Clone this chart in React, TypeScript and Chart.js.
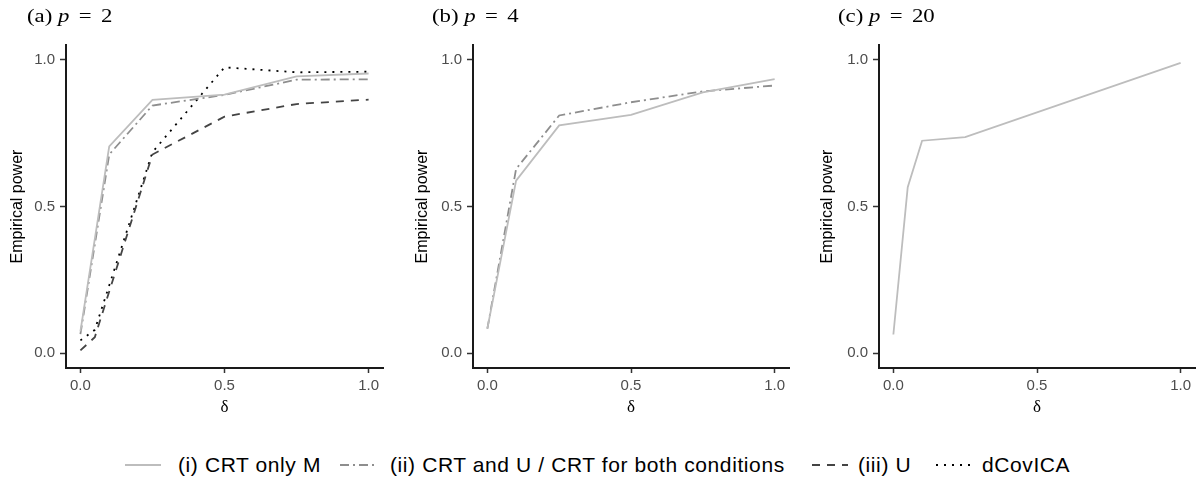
import React, { useEffect, useRef } from 'react';
import { Chart, registerables } from 'chart.js';
Chart.register(...registerables);

// ---- data ----
const deltaA_crt = [0, 0.1, 0.25, 0.5, 0.75, 1.0];
const powerA_crtOnlyM = [0.075, 0.705, 0.863, 0.881, 0.943, 0.953];
const powerA_crtAndU = [0.065, 0.677, 0.844, 0.88, 0.932, 0.933];
const deltaA_other = [0, 0.05, 0.25, 0.5, 0.75, 1.0];
const powerA_U = [0.01, 0.055, 0.677, 0.806, 0.849, 0.864];
const powerA_dCovICA = [0.044, 0.08, 0.685, 0.974, 0.957, 0.959];

const deltaB = [0, 0.1, 0.25, 0.5, 0.75, 1.0];
const powerB_crtOnlyM = [0.084, 0.588, 0.776, 0.812, 0.889, 0.934];
const powerB_crtAndU = [0.084, 0.628, 0.81, 0.855, 0.892, 0.912];

const deltaC = [0, 0.05, 0.1, 0.25, 1.0];
const powerC_crtOnlyM = [0.064, 0.566, 0.724, 0.736, 0.989];

const xTickValues = [0, 0.5, 1];
const yTickValues = [0, 0.5, 1];
const seriesLabels = [
  '(i) CRT only M',
  '(ii) CRT and U / CRT for both conditions',
  '(iii) U',
  'dCovICA',
];
const panelTitles = [
  { tag: '(a)', p: '2' },
  { tag: '(b)', p: '4' },
  { tag: '(c)', p: '20' },
];

// ---- styles ----
const seriesStyles = [
  { color: '#bdbdbd', dash: [] as number[] },
  { color: '#8e8e8e', dash: [9, 4, 2, 4] },
  { color: '#444444', dash: [8, 7] },
  { color: '#000000', dash: [2, 6] },
];

const H = 422;
const SANS = "'Liberation Sans', Arial, Helvetica, sans-serif";
const SERIF = "'Liberation Serif', 'Times New Roman', serif";

type Series = { idx: number; x: number[]; y: number[] };

function Panel(props: {
  left: number;
  width: number;
  plotLeft: number;
  plotRight: number;
  series: Series[];
}) {
  const ref = useRef<HTMLCanvasElement>(null);
  const { left, width, plotLeft, plotRight, series } = props;
  useEffect(() => {
    if (!ref.current) return;
    const chart = new Chart(ref.current, {
      type: 'line',
      data: {
        datasets: series.map((s) => ({
          label: seriesLabels[s.idx],
          data: s.x.map((x, i) => ({ x, y: s.y[i] })),
          borderColor: seriesStyles[s.idx].color,
          borderDash: seriesStyles[s.idx].dash,
          borderWidth: 1.8,
          pointRadius: 0,
          fill: false,
          tension: 0,
        })),
      },
      options: {
        animation: false,
        responsive: false,
        maintainAspectRatio: false,
        layout: { padding: { top: 45, left: 0, bottom: 0, right: left + width - plotRight } },
        plugins: { legend: { display: false }, tooltip: { enabled: false } },
        scales: {
          x: {
            type: 'linear',
            min: -0.05,
            max: 1.05,
            afterBuildTicks: (s: any) => {
              s.ticks = xTickValues.map((v) => ({ value: v }));
            },
            afterFit: (s: any) => {
              s.height = H - 368;
            },
            ticks: {
              callback: (v: any) => Number(v).toFixed(1),
              color: '#4d4d4d',
              font: { size: 15, family: SANS },
              padding: 4,
              maxRotation: 0,
              autoSkip: false,
            },
            grid: { drawOnChartArea: false, drawTicks: true, tickLength: 5, tickColor: '#333', tickWidth: 1.5 },
            border: { color: '#1a1a1a', width: 2 },
            title: { display: true, text: 'δ', color: '#000', font: { size: 17, family: SERIF }, padding: { top: 0, bottom: 4 } },
          },
          y: {
            type: 'linear',
            min: -0.05,
            max: 1.05,
            afterBuildTicks: (s: any) => {
              s.ticks = yTickValues.map((v) => ({ value: v }));
            },
            afterFit: (s: any) => {
              s.width = plotLeft - left;
            },
            ticks: {
              callback: (v: any) => Number(v).toFixed(1),
              color: '#4d4d4d',
              font: { size: 15, family: SANS },
              padding: 5,
              autoSkip: false,
            },
            grid: { drawOnChartArea: false, drawTicks: true, tickLength: 6, tickColor: '#333', tickWidth: 1.5 },
            border: { color: '#1a1a1a', width: 2 },
            title: { display: true, text: 'Empirical power', color: '#000', font: { size: 16, family: SANS }, padding: { top: 8, bottom: 0 } },
          },
        },
      } as any,
    });
    return () => chart.destroy();
  }, []);
  return (
    <canvas
      ref={ref}
      width={width}
      height={H}
      style={{ position: 'absolute', left, top: 0, width, height: H }}
    />
  );
}

function Title({ left, i }: { left: number; i: number }) {
  const t = panelTitles[i];
  return (
    <div
      style={{
        position: 'absolute',
        left,
        top: 5,
        fontFamily: SERIF,
        fontSize: 19,
        lineHeight: '22px',
        whiteSpace: 'nowrap',
        transform: 'scaleX(1.2)',
        transformOrigin: 'left top',
        color: '#000',
      }}
    >
      {t.tag} <i>p</i>
      <span style={{ margin: '0 3px' }}> = </span>
      {t.p}
    </div>
  );
}

const legendPos = [
  { sample: 125, text: 178 },
  { sample: 340, text: 390 },
  { sample: 812, text: 858 },
  { sample: 936, text: 982 },
];

export default function App() {
  return (
    <div style={{ position: 'absolute', left: 0, top: 0, width: 1200, height: 481, background: '#fff', overflow: 'hidden' }}>
      <Panel
        left={0}
        width={400}
        plotLeft={66}
        plotRight={383}
        series={[
          { idx: 0, x: deltaA_crt, y: powerA_crtOnlyM },
          { idx: 1, x: deltaA_crt, y: powerA_crtAndU },
          { idx: 2, x: deltaA_other, y: powerA_U },
          { idx: 3, x: deltaA_other, y: powerA_dCovICA },
        ]}
      />
      <Panel
        left={405}
        width={400}
        plotLeft={473}
        plotRight={789}
        series={[
          { idx: 0, x: deltaB, y: powerB_crtOnlyM },
          { idx: 1, x: deltaB, y: powerB_crtAndU },
        ]}
      />
      <Panel
        left={810}
        width={390}
        plotLeft={879}
        plotRight={1195}
        series={[{ idx: 0, x: deltaC, y: powerC_crtOnlyM }]}
      />
      <Title left={27} i={0} />
      <Title left={432} i={1} />
      <Title left={838} i={2} />
      {seriesLabels.map((lab, k) => (
        <React.Fragment key={k}>
          <svg
            width={36}
            height={10}
            style={{ position: 'absolute', left: legendPos[k].sample, top: 460 }}
          >
            <line
              x1={0}
              y1={5}
              x2={36}
              y2={5}
              stroke={seriesStyles[k].color}
              strokeWidth={1.8}
              strokeDasharray={seriesStyles[k].dash.length ? seriesStyles[k].dash.join(' ') : undefined}
            />
          </svg>
          <div
            style={{
              position: 'absolute',
              left: legendPos[k].text,
              top: 452,
              fontFamily: SANS,
              fontSize: 21,
              letterSpacing: '0.6px',
              lineHeight: '26px',
              whiteSpace: 'nowrap',
              color: '#000',
            }}
          >
            {lab}
          </div>
        </React.Fragment>
      ))}
    </div>
  );
}
